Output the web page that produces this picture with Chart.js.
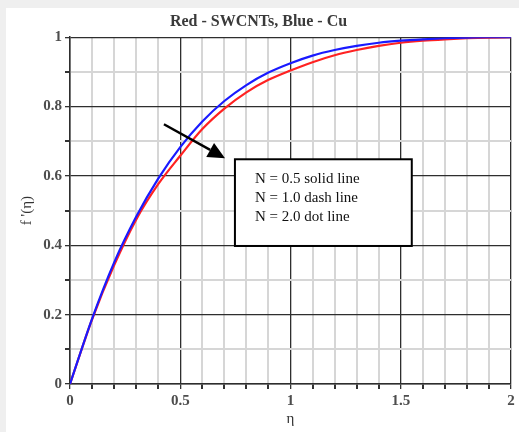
<!DOCTYPE html>
<html>
<head>
<meta charset="utf-8">
<script src="https://cdn.jsdelivr.net/npm/chart.js@4.4.1/dist/chart.umd.min.js"></script>
<style>
  html, body { margin: 0; padding: 0; background: #efefef; }
  #wrap { position: absolute; left: 6px; top: 8px; width: 513px; height: 424px; background: #fff; }
</style>
</head>
<body>
<div id="wrap"><canvas id="myChart" width="513" height="424"></canvas></div>
<script>
// eta values and f'(eta)
var eta = [0, 0.1, 0.2, 0.3, 0.4, 0.5, 0.6, 0.7, 0.8, 0.9, 1.0,
           1.1, 1.2, 1.3, 1.4, 1.5, 1.6, 1.7, 1.8, 1.9, 2.0];
var fCu = [0, 0.188, 0.350, 0.482, 0.592, 0.683, 0.757, 0.816, 0.862, 0.898, 0.925,
           0.947, 0.963, 0.975, 0.984, 0.990, 0.994, 0.997, 0.999, 1.0, 1.0];
var fSwcnt = [0, 0.186, 0.342, 0.474, 0.576, 0.658, 0.735, 0.794, 0.841, 0.877, 0.904,
              0.928, 0.948, 0.963, 0.975, 0.984, 0.990, 0.994, 0.997, 0.999, 1.0];

var xTicks = [0, 0.5, 1, 1.5, 2];
var xTickLabels = ['0', '0.5', '1', '1.5', '2'];
var yTicks = [0, 0.2, 0.4, 0.6, 0.8, 1];
var yTickLabels = ['0', '0.2', '0.4', '0.6', '0.8', '1'];

var noteLines = ['N = 0.5 solid line', 'N = 1.0 dash line', 'N = 2.0 dot line'];

function majorIndex(list, v) {
    for (var i = 0; i < list.length; i++) {
        if (Math.abs(list[i] - v) < 1e-6) return i;
    }
    return -1;
}

function toPoints(xs, ys) {
    return xs.map(function(x, i) { return {x: x, y: ys[i]}; });
}

var serif = '"Liberation Serif", "Times New Roman", serif';

// box with the N text and the arrow, placed in data units
var notePlugin = {
    id: 'note',
    afterDatasetsDraw: function(chart) {
        var c = chart.ctx, xs = chart.scales.x, ys = chart.scales.y;
        var bx0 = xs.getPixelForValue(0.748), bx1 = xs.getPixelForValue(1.55);
        var by0 = ys.getPixelForValue(0.648), by1 = ys.getPixelForValue(0.398);
        c.save();
        c.fillStyle = '#fff';
        c.fillRect(bx0, by0, bx1 - bx0, by1 - by0);
        c.strokeStyle = '#000';
        c.lineWidth = 2;
        c.strokeRect(bx0, by0, bx1 - bx0, by1 - by0);

        c.fillStyle = '#111';
        c.font = '15px ' + serif;
        c.textBaseline = 'middle';
        noteLines.forEach(function(t, i) {
            c.fillText(t, bx0 + 20, by0 + 20 + i * 19);
        });

        var ax0 = xs.getPixelForValue(0.426), ay0 = ys.getPixelForValue(0.749);
        var ax1 = xs.getPixelForValue(0.703), ay1 = ys.getPixelForValue(0.651);
        var ang = Math.atan2(ay1 - ay0, ax1 - ax0);
        var hl = 17, hw = 8;
        var bxp = ax1 - hl * Math.cos(ang), byp = ay1 - hl * Math.sin(ang);
        c.strokeStyle = '#000';
        c.lineWidth = 2.5;
        c.beginPath();
        c.moveTo(ax0, ay0);
        c.lineTo(bxp, byp);
        c.stroke();
        c.fillStyle = '#000';
        c.beginPath();
        c.moveTo(ax1, ay1);
        c.lineTo(bxp + hw * Math.sin(ang), byp - hw * Math.cos(ang));
        c.lineTo(bxp - hw * Math.sin(ang), byp + hw * Math.cos(ang));
        c.closePath();
        c.fill();
        c.restore();
    }
};

var ctx = document.getElementById('myChart');

var myChart = new Chart(ctx.getContext('2d'), {
    type: 'line',
    data: {
        datasets: [{
            label: 'Cu',
            data: toPoints(eta, fCu),
            borderColor: '#1a1aff',
            borderWidth: 2.2,
            pointRadius: 0,
            cubicInterpolationMode: 'monotone',
            fill: false
        }, {
            label: 'SWCNTs',
            data: toPoints(eta, fSwcnt),
            borderColor: '#ff2222',
            borderWidth: 2.2,
            pointRadius: 0,
            cubicInterpolationMode: 'monotone',
            fill: false
        }]
    },
    options: {
        responsive: false,
        animation: false,
        layout: { padding: { right: 8 } },
        plugins: {
            legend: { display: false },
            tooltip: { enabled: false },
            title: {
                display: true,
                text: 'Red - SWCNTs, Blue - Cu',
                color: '#3a3a3a',
                font: { family: serif, size: 16, weight: 'bold' },
                padding: { top: 4, bottom: 6 }
            }
        },
        scales: {
            x: {
                type: 'linear',
                min: 0,
                max: 2,
                afterFit: function(s) { s.height = 48; },
                ticks: {
                    stepSize: 0.1,
                    autoSkip: false,
                    maxRotation: 0,
                    padding: 3,
                    color: '#4d4d4d',
                    font: { family: serif, size: 15, weight: 'bold' },
                    callback: function(v) {
                        var i = majorIndex(xTicks, v);
                        return i < 0 ? '' : xTickLabels[i];
                    }
                },
                grid: {
                    color: function(c) { return majorIndex(xTicks, c.tick.value) < 0 ? '#d6d6d6' : '#2e2e2e'; },
                    lineWidth: function(c) { return majorIndex(xTicks, c.tick.value) < 0 ? 2 : 1.3; },
                    tickColor: '#333',
                    tickLength: 5
                },
                border: { color: '#2e2e2e', width: 1.5 },
                title: {
                    display: true,
                    text: 'η',
                    color: '#333',
                    font: { family: serif, size: 15 },
                    padding: { top: 10 }
                }
            },
            y: {
                min: 0,
                max: 1,
                afterFit: function(s) { s.width = 64; },
                ticks: {
                    stepSize: 0.1,
                    autoSkip: false,
                    padding: 3,
                    color: '#4d4d4d',
                    font: { family: serif, size: 15, weight: 'bold' },
                    callback: function(v) {
                        var i = majorIndex(yTicks, v);
                        return i < 0 ? '' : yTickLabels[i];
                    }
                },
                grid: {
                    color: function(c) { return majorIndex(yTicks, c.tick.value) < 0 ? '#d6d6d6' : '#2e2e2e'; },
                    lineWidth: function(c) { return majorIndex(yTicks, c.tick.value) < 0 ? 2 : 1.3; },
                    tickColor: '#333',
                    tickLength: 5
                },
                border: { color: '#2e2e2e', width: 1.5 },
                title: {
                    display: true,
                    text: "f '(η)",
                    color: '#333',
                    font: { family: serif, size: 15 },
                    padding: { top: 12 }
                }
            }
        }
    },
    plugins: [notePlugin]
});
</script>
</body>
</html>
